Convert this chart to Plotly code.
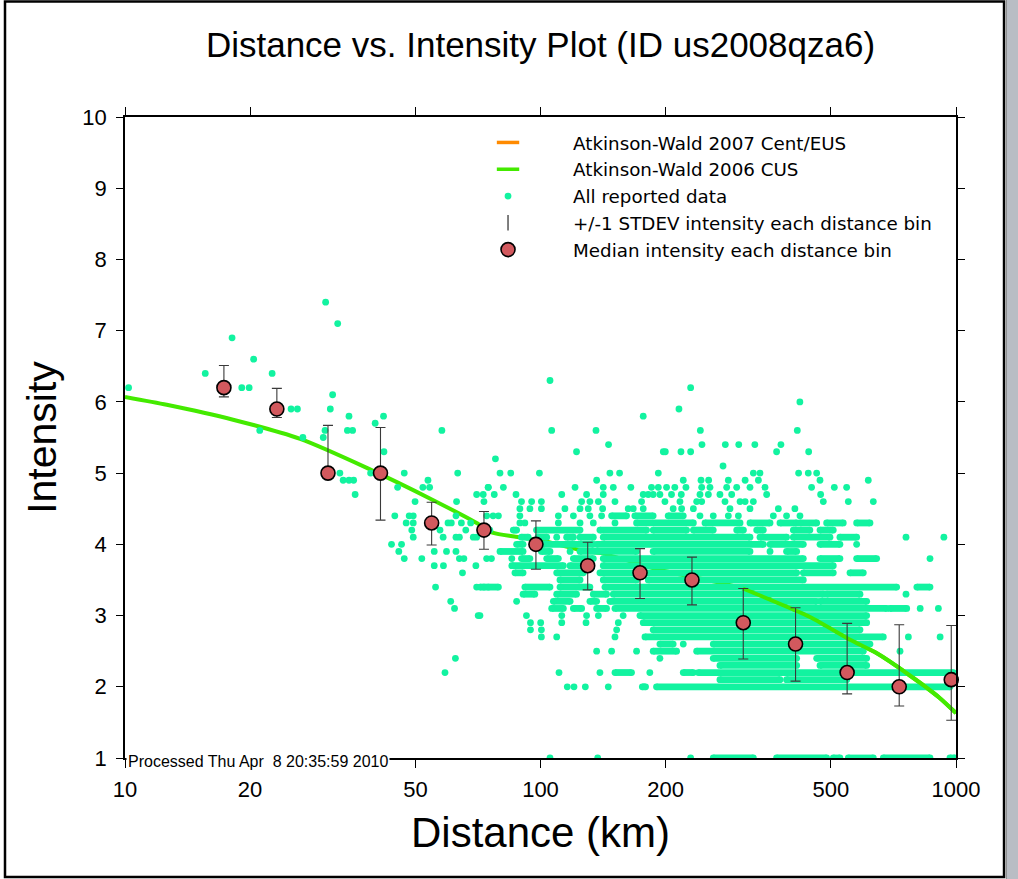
import plotly.graph_objects as go

# ---------------- data ----------------
# Binned medians and +/-1 STDEV bounds
median_dist = [17.3, 23.2, 30.8, 41.2, 54.7, 73.1, 97.5, 129.9, 173.6, 231.5, 307.6, 411, 547, 730, 974]
median_int = [6.2, 5.9, 5.0, 5.0, 4.3, 4.2, 4.0, 3.7, 3.6, 3.5, 2.9, 2.6, 2.2, 2.0, 2.1]
std_upper = [6.51, 6.19, 5.67, 5.64, 4.59, 4.46, 4.33, 4.03, 3.94, 3.82, 3.38, 3.11, 2.89, 2.87, 2.86]
std_lower = [6.07, 5.78, 4.97, 4.34, 3.99, 3.93, 3.65, 3.36, 3.24, 3.15, 2.39, 2.08, 1.90, 1.73, 1.53]

# Atkinson-Wald 2006 CUS curve
aw06_dist = [10, 12.6, 18.2, 26.4, 38.3, 55.2, 70.2, 77, 86.5, 103, 124.5, 141.5, 194, 307, 445, 556, 645, 761, 915, 1000]
aw06_int = [6.07, 5.96, 5.75, 5.48, 5.07, 4.62, 4.30, 4.16, 4.11, 4.04, 3.92, 3.87, 3.64, 3.38, 2.98, 2.66, 2.47, 2.19, 1.84, 1.63]

# Individual reported intensities, near field
near_dist = [10.2, 15.6, 18.1, 19.1, 19.9, 20.4, 21.1, 22.6, 25.1, 26.0, 26.8, 30.4, 32.5, 31.6, 31.2,
             30.3, 30.0, 34.6, 34.3, 35.3, 32.9, 33.5, 34.6, 35.5, 35.8, 40.0, 41.9, 42.0, 39.0, 47.0,
             45.3, 49.9, 57.9, 52.1, 53.6, 54.1, 62.8, 63.2, 44.6, 48.3, 49.4, 47.5, 49.4, 49.0, 49.4,
             43.8, 46.3, 45.6, 47.0, 51.8, 55.5, 55.5, 58.4, 55.9, 57.3, 58.3, 59.4, 59.9, 61.0, 62.6,
             62.6, 63.8, 62.6, 63.8, 65.4, 64.9, 64.5, 66.1, 67.9, 68.9, 70.2, 69.9, 70.2, 73.1, 74.9,
             70.8, 60.8, 62.1, 62.4, 58.9, 74.2, 70.2, 73.1, 74.9, 77.9]
near_int = [6.2, 6.4, 6.9, 6.2, 6.2, 6.6, 5.6, 6.4, 5.9, 5.9, 5.5, 7.4, 7.1, 6.1, 5.9,
            5.6, 5.5, 5.8, 5.6, 5.6, 5.0, 4.9, 4.9, 4.9, 4.7, 5.7, 5.8, 5.3, 5.0, 5.0,
            4.8, 4.6, 5.6, 4.8, 4.9, 4.8, 4.6, 5.0, 4.4, 4.4, 4.4, 4.3, 4.3, 4.2, 4.1,
            4.0, 4.0, 3.9, 3.8, 3.8, 3.9, 3.7, 3.7, 3.4, 4.2, 4.1, 3.9, 4.3, 4.3, 4.4,
            4.1, 4.1, 3.9, 3.8, 3.8, 3.6, 4.3, 4.2, 4.3, 4.1, 4.1, 3.7, 3.4, 3.4, 3.4,
            3.0, 3.2, 3.1, 2.4, 2.2, 3.8, 4.7, 4.6, 4.8, 5.2]

# Individual reported intensities beyond ~70 km, listed by intensity row
far_rows = [6.3, 6.2, 6.0, 5.9, 5.8, 5.6, 5.4, 5.3, 5.1, 5.0, 4.9, 4.8, 4.7, 4.6, 4.5, 4.4,
            4.3, 4.1, 4.0, 3.9, 3.8, 3.3, 3.2, 3.1, 3.0, 2.9, 2.8, 2.7, 2.6, 2.5, 2.4, 2.2, 2.0, 1.0]
far_row_dist = [
    [105.4], [229.8], [421], [215.4], [176.7],
    [106.4, 136, 242.5, 415],
    [145.8, 244.7, 278.5, 300, 328, 379],
    [122.1, 197.5, 199.7, 217.8, 229.8, 370, 442],
    [275],
    [79.9, 84.8, 99.4, 146.9, 155, 192.1, 325.3, 337.5, 418, 441, 462],
    [136.5, 220.6, 243.4, 253.9, 283.2, 310.8, 334.5, 470.6, 615],
    [74.8, 81.4, 121.1, 141.6, 149.7, 165, 185, 192.1, 201.1, 210.5, 223.9, 244.3, 255.8, 280.6,
     296.6, 319.3, 347, 449.2, 509.5, 545.5],
    [72.8, 77.4, 87.3, 112.5, 129.1, 141.6, 176.7, 181.7, 186.7, 193.8, 206.7, 218.2, 242, 253.5,
     270.3, 288.5, 350.2, 472.3],
    [90, 95.2, 100.5, 125.6, 131.5, 137.8, 151.1, 175.1, 199.3, 216.6, 237.6, 244.3, 278, 302.2,
     310.8, 325.3, 479.4, 550.6, 632.4],
    [89.2, 94.3, 100.5, 114.5, 124.5, 130.3, 141.1, 162.6, 167.2, 176.7, 208.6, 218.6, 233.3,
     285.8, 319.3, 373.6, 409.5],
    [74.2, 76.9, 79.2, 89.2, 110.4, 120, 131.5, 140.3, 242, 260.5, 283.2, 299.4, 363.4, 391, 421.2],
    [89.2, 91.7, 110.4, 124.5, 134, 151.1],
    [109.4, 758, 935],
    [576.6],
    [117.8, 356.8],
    [76.2, 85.3, 865.8],
    [758],
    [87.6],
    [820, 907],
    [71.5, 92.5, 112.5, 129.1, 137.8, 158.1],
    [94.6, 100.1, 112.5, 128.7, 153.9],
    [94.6, 100.5, 152.5],
    [100.5, 109.4, 151.1, 768, 915.7],
    [220.6],
    [136.5, 148.3, 170.3, 733.2],
    [193.8],
    [110.8, 139, 183.3],
    [116, 120.4, 128.2, 145.6],
    [105.4, 137.3, 229.8],
]

# Runs of closely packed reports (distance from, distance to) on each intensity row
dense_rows = [4.4, 4.3, 4.2, 4.1, 4.0, 3.9, 3.8, 3.7, 3.6, 3.5, 3.4, 3.3, 3.2, 3.1, 3.0,
              2.9, 2.8, 2.7, 2.6, 2.5, 2.4, 2.3, 2.2, 2.1, 2.0, 1.0]
dense_spans = [
    [(148.3, 161.1), (168.7, 186.7), (202.9, 220.6)],
    [(170.3, 233.3), (248.8, 302.2), (319.3, 356.8), (377, 413.5), (421.2, 462), (488.3, 535.4), (576.6, 620.8)],
    [(71.5, 75.5), (86, 87.6), (97.8, 124.5), (139, 180), (186.7, 224.7), (233.3, 260.5), (296.6, 307.9),
     (331.4, 343.8), (406, 445), (470.6, 506.6)],
    [(90, 93.4), (98.6, 103.5), (115.6, 120), (124.5, 134), (141.6, 319.3), (337.5, 391), (406, 497.4),
     (525.6, 576.6)],
    [(87.6, 90.8), (101.5, 134), (136.5, 343.8), (356.8, 429.1), (470.6, 525.6)],
    [(79.9, 90.8), (100.5, 105.4), (124.5, 170.3), (186.7, 319.3), (391, 413.5)],
    [(90, 94.3), (103.5, 110.4), (120, 134), (141.6, 429.1), (470.6, 525.6), (576.6, 644.2)],
    [(85.3, 113.5), (117.8, 131.5), (141.6, 506.6)],
    [(86.8, 90.8), (109.4, 126.8), (139, 413.5), (429.1, 506.6), (555.7, 598.3)],
    [(111.4, 124.5), (141.6, 170.3), (181.7, 429.1)],
    [(71.5, 79.2), (91.7, 105.4), (111.4, 131.5), (142.9, 719.8), (805, 865.8)],
    [(90.8, 96.9), (109.4, 122.1), (134, 144.2), (149.7, 479.4), (488.3, 587.4)],
    [(107.4, 117.8), (131.5, 136.5), (146.9, 462), (470.6, 609.5)],
    [(106.4, 113.5), (120, 125.6), (136.5, 144.2), (151.1, 681), (693.7, 760.9)],
    [(173.5, 609.5)],
    [(176.7, 609.5)],
    [(186.7, 587.4)],
    [(178.4, 668.5)],
    [(193.8, 208.6), (260.5, 620.8)],
    [(186.7, 212.6), (237.6, 598.3)],
    [(260.5, 413.5), (462, 609.5)],
    [(270.3, 413.5), (470.6, 609.5)],
    [(151.1, 165.6), (220.6, 233.3), (239.8, 985)],
    [(270.3, 377), (391, 545.5)],
    [(175.8, 179), (190.2, 967)],
    [(260.5, 325.3), (370, 488.3), (506.6, 525.6), (550.6, 632.4), (668.5, 865.8), (967, 994)],
]

x_ticks = [10, 20, 50, 100, 200, 500, 1000]
y_ticks = [1, 2, 3, 4, 5, 6, 7, 8, 9, 10]

title_text = "Distance vs. Intensity Plot (ID us2008qza6)"
stamp_text = "Processed Thu Apr\u00a0 8 20:35:59 2010"

# ---------------- styling ----------------
FONT = "Liberation Sans, Arial, Helvetica, sans-serif"
LEGEND_FONT = "DejaVu Sans, Liberation Sans, sans-serif"
DOT = "#12f3a0"
GREEN = "#44ea00"
ORANGE = "#ff8a00"
RED = "#d2595e"
DOT_SIZE = 6.8

dot_x = list(near_dist)
dot_y = list(near_int)
for lvl, dl in zip(far_rows, far_row_dist):
    dot_x += dl
    dot_y += [lvl] * len(dl)

seg_x, seg_y = [], []
for lvl, spans in zip(dense_rows, dense_spans):
    for a, b in spans:
        seg_x += [a, b, None]
        seg_y += [lvl, lvl, None]

# far part of the curve stays visible above the data cloud in the reference
far_curve = [(d, i) for d, i in zip(aw06_dist, aw06_int) if d >= 300]

fig = go.Figure()

# curve (drawn beneath the data)
fig.add_trace(go.Scatter(x=aw06_dist, y=aw06_int, mode="lines", showlegend=False, hoverinfo="skip",
                         line=dict(color=GREEN, width=4, shape="spline", smoothing=0.6)))
fig.add_trace(go.Scatter(x=dot_x, y=dot_y, mode="markers", showlegend=False,
                         marker=dict(color=DOT, size=DOT_SIZE, line=dict(width=0))))
fig.add_trace(go.Scatter(x=seg_x, y=seg_y, mode="lines+markers", showlegend=False, hoverinfo="skip",
                         line=dict(color=DOT, width=DOT_SIZE),
                         marker=dict(color=DOT, size=DOT_SIZE, line=dict(width=0))))
fig.add_trace(go.Scatter(x=[p[0] for p in far_curve], y=[p[1] for p in far_curve], mode="lines",
                         showlegend=False, hoverinfo="skip",
                         line=dict(color=GREEN, width=4, shape="spline", smoothing=0.6)))

# legend entries
fig.add_trace(go.Scatter(x=[None], y=[None], mode="markers", name="Atkinson-Wald 2007 Cent/EUS",
                         marker=dict(symbol="line-ew", size=23, color=ORANGE,
                                     line=dict(color=ORANGE, width=3.5))))
fig.add_trace(go.Scatter(x=[None], y=[None], mode="markers", name="Atkinson-Wald 2006 CUS",
                         marker=dict(symbol="line-ew", size=23, color=GREEN,
                                     line=dict(color=GREEN, width=3.5))))
fig.add_trace(go.Scatter(x=[None], y=[None], mode="markers", name="All reported data",
                         marker=dict(color=DOT, size=DOT_SIZE, line=dict(width=0))))
fig.add_trace(go.Scatter(x=[None], y=[None], mode="markers", name="+/-1 STDEV intensity each distance bin",
                         marker=dict(symbol="line-ns-open", size=11, color="#555555",
                                     line=dict(color="#555555", width=1.5))))

fig.add_trace(go.Scatter(
    x=median_dist, y=median_int, mode="markers", name="Median intensity each distance bin",
    cliponaxis=False,
    marker=dict(color=RED, size=14, line=dict(color="black", width=1.6)),
    error_y=dict(type="data", symmetric=False,
                 array=[u - m for u, m in zip(std_upper, median_int)],
                 arrayminus=[m - l for m, l in zip(median_int, std_lower)],
                 color="#3a3a3a", thickness=1.1, width=5),
))

axis_common = dict(showline=True, linecolor="black", linewidth=1.5, mirror="ticks",
                   ticks="outside", tickcolor="black", tickwidth=1.3, showgrid=False,
                   zeroline=False, tickfont=dict(family=FONT, size=22, color="black"))

fig.update_layout(
    width=1018, height=879,
    margin=dict(l=125, r=62, t=117, b=121, pad=0),
    paper_bgcolor="white", plot_bgcolor="white",
    font=dict(family=FONT, color="black"),
    title=dict(text=title_text, font=dict(family=FONT, size=35, color="black"),
               x=0.5, xref="paper", xanchor="center", y=1 - 45 / 879, yref="container",
               yanchor="middle"),
    xaxis=dict(type="log", range=[1, 3], tickvals=x_ticks, ticktext=[str(v) for v in x_ticks],
               ticklen=8, ticklabelstandoff=3,
               title=dict(text="Distance (km)", font=dict(family=FONT, size=42, color="black"),
                          standoff=16),
               **axis_common),
    yaxis=dict(range=[1, 10], tickvals=y_ticks, ticklen=7, ticklabelstandoff=5,
               title=dict(text="Intensity", font=dict(family=FONT, size=41, color="black"),
                          standoff=13),
               **axis_common),
    showlegend=True,
    legend=dict(x=0.3827, y=0.989, xanchor="left", yanchor="top", bgcolor="rgba(0,0,0,0)",
                font=dict(family=LEGEND_FONT, size=18.3, color="black"), itemwidth=120,
                tracegroupgap=0, itemclick=False, itemdoubleclick=False),
    annotations=[dict(text=stamp_text, xref="paper", yref="paper", x=0, y=0, xanchor="left",
                      yanchor="middle", xshift=1, yshift=-3, showarrow=False,
                      font=dict(family=FONT, size=16, color="black"), bgcolor="white", borderpad=1)],
    shapes=[
        dict(type="rect", xref="paper", yref="paper", x0=-0.1444, x1=1.0578, y0=-0.1856, y1=1.1802,
             line=dict(color="black", width=2.5), layer="above"),
        dict(type="rect", xref="paper", yref="paper", x0=1.0605, x1=1.08, y0=-0.2, y1=1.2,
             fillcolor="#b9bdc4", line=dict(color="#7d7d7d", width=1), layer="above"),
    ],
)

fig.write_html("out.html", config={"displayModeBar": False},
               post_script="document.body.style.margin='0px';")
